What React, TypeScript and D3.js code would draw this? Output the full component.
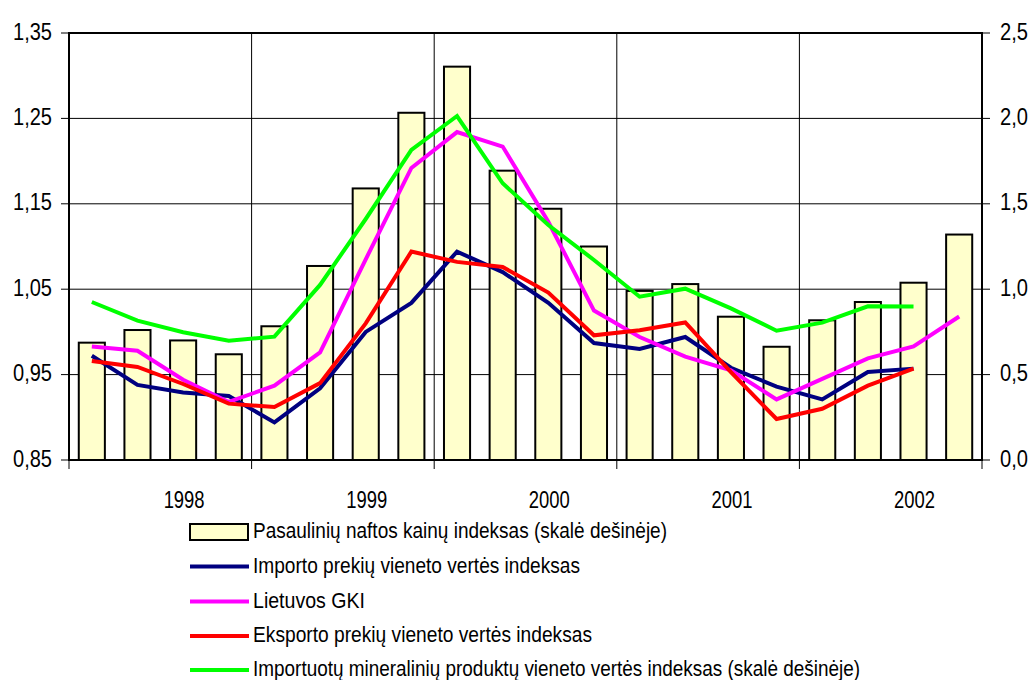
import React from "react";
import * as d3 from "d3";

const quarters = [
  "1998 I", "1998 II", "1998 III", "1998 IV",
  "1999 I", "1999 II", "1999 III", "1999 IV",
  "2000 I", "2000 II", "2000 III", "2000 IV",
  "2001 I", "2001 II", "2001 III", "2001 IV",
  "2002 I", "2002 II", "2002 III", "2002 IV",
];
const yearLabels = ["1998", "1999", "2000", "2001", "2002"];

// right scale
const oilPriceIndex = [
  0.687, 0.761, 0.70, 0.619, 0.783, 1.136, 1.59, 2.033, 2.303, 1.694,
  1.471, 1.25, 0.99, 1.03, 0.839, 0.663, 0.818, 0.925, 1.038, 1.32,
];
// left scale
const importUnitValue = [
  0.972, 0.938, 0.929, 0.925, 0.894, 0.934, 1.0, 1.034, 1.094, 1.07,
  1.034, 0.987, 0.98, 0.994, 0.958, 0.936, 0.921, 0.953, 0.957,
];
const lithuaniaCPI = [
  0.983, 0.978, 0.944, 0.918, 0.937, 0.976, 1.085, 1.192, 1.234, 1.217,
  1.129, 1.025, 0.994, 0.971, 0.955, 0.921, 0.945, 0.969, 0.983, 1.018,
];
const exportUnitValue = [
  0.966, 0.959, 0.939, 0.916, 0.912, 0.94, 1.01, 1.094, 1.082, 1.076,
  1.046, 0.996, 1.002, 1.011, 0.953, 0.898, 0.91, 0.937, 0.957,
];
// right scale
const mineralImportUnitValue = [
  0.925, 0.816, 0.748, 0.698, 0.722, 1.025, 1.411, 1.815, 2.014, 1.62,
  1.376, 1.171, 0.956, 1.003, 0.888, 0.757, 0.804, 0.9, 0.898,
];

const leftTicks = [0.85, 0.95, 1.05, 1.15, 1.25, 1.35];
const rightTicks = [0, 0.5, 1.0, 1.5, 2.0, 2.5];

const legendLabels = [
  "Pasaulinių naftos kainų indeksas (skalė dešinėje)",
  "Importo prekių vieneto vertės indeksas",
  "Lietuvos GKI",
  "Eksporto prekių vieneto vertės indeksas",
  "Importuotų mineralinių produktų vieneto vertės indeksas (skalė dešinėje)",
];
const legendWidths = [414, 327, 112, 339, 607];

const PL = 69, PR = 982, PT = 33, PB = 460;
const FONT = "'Liberation Sans', Arial, sans-serif";

export default function App() {
  const x = d3.scaleBand<string>().domain(quarters).range([PL, PR]).padding(0);
  const bw = x.bandwidth();
  const barW = bw / 1.75;
  const yL = d3.scaleLinear().domain([0.85, 1.35]).range([PB, PT]);
  const yR = d3.scaleLinear().domain([0, 2.5]).range([PB, PT]);
  const cx = (i: number) => (x(quarters[i]) as number) + bw / 2;

  const fmtL = (v: number) => d3.format(".2f")(v).replace(".", ",");
  const fmtR = (v: number) => d3.format(".1f")(v).replace(".", ",");

  const mkLine = (vals: number[], scale: d3.ScaleLinear<number, number>) =>
    d3.line<number>().x((_, i) => cx(i)).y((v) => scale(v))(vals) || "";

  const series = [
    { vals: importUnitValue, scale: yL, color: "#000080" },
    { vals: lithuaniaCPI, scale: yL, color: "#FF00FF" },
    { vals: exportUnitValue, scale: yL, color: "#FF0000" },
    { vals: mineralImportUnitValue, scale: yR, color: "#00FF00" },
  ];

  const boundaries = d3.range(0, quarters.length + 1, 4).map((k) =>
    k < quarters.length ? (x(quarters[k]) as number) : PR
  );

  const legendY = [532, 566.5, 601.5, 636, 670];

  return (
    <svg
      width={1031}
      height={680}
      style={{ position: "absolute", left: 0, top: 0, background: "#fff" }}
      fontFamily={FONT}
    >
      <rect x={0} y={0} width={1031} height={680} fill="#fff" />
      {/* horizontal gridlines */}
      {leftTicks.slice(1, -1).map((t) => (
        <line key={"h" + t} x1={PL} x2={PR} y1={yL(t)} y2={yL(t)} stroke="#000" strokeWidth={1} />
      ))}
      {/* vertical gridlines */}
      {boundaries.slice(1, -1).map((b, i) => (
        <line key={"v" + i} x1={b} x2={b} y1={PT} y2={PB} stroke="#000" strokeWidth={1} />
      ))}
      {/* bars */}
      {oilPriceIndex.map((v, i) => (
        <rect
          key={"b" + i}
          x={cx(i) - barW / 2}
          y={yR(v)}
          width={barW}
          height={PB - yR(v)}
          fill="#FFFFCC"
          stroke="#000"
          strokeWidth={2}
        />
      ))}
      {/* lines */}
      {series.map((s, i) => (
        <path key={"l" + i} d={mkLine(s.vals, s.scale)} fill="none" stroke={s.color} strokeWidth={4} />
      ))}
      {/* plot border */}
      <rect x={PL} y={PT} width={PR - PL} height={PB - PT} fill="none" stroke="#000" strokeWidth={2} />
      {/* left axis ticks & labels */}
      {leftTicks.map((t) => (
        <g key={"lt" + t}>
          <line x1={PL - 8} x2={PL} y1={yL(t)} y2={yL(t)} stroke="#000" strokeWidth={1} />
          <text
            x={52}
            y={yL(t) + 6.5}
            fontSize={23}
            textAnchor="end"
            textLength={39}
            lengthAdjust="spacingAndGlyphs"
            fill="#000"
          >
            {fmtL(t)}
          </text>
        </g>
      ))}
      {/* right axis ticks & labels */}
      {rightTicks.map((t) => (
        <g key={"rt" + t}>
          <line x1={PR} x2={PR + 8} y1={yR(t)} y2={yR(t)} stroke="#000" strokeWidth={1} />
          <text
            x={1000}
            y={yR(t) + 6.5}
            fontSize={23}
            textAnchor="start"
            textLength={28}
            lengthAdjust="spacingAndGlyphs"
            fill="#000"
          >
            {fmtR(t)}
          </text>
        </g>
      ))}
      {/* bottom ticks */}
      {boundaries.map((b, i) => (
        <line key={"bt" + i} x1={b} x2={b} y1={PB} y2={PB + 9} stroke="#000" strokeWidth={1} />
      ))}
      {yearLabels.map((yl, k) => (
        <text
          key={"yl" + yl}
          x={cx(k * 4 + 2) + 1}
          y={508}
          fontSize={23}
          textAnchor="middle"
          textLength={41}
          lengthAdjust="spacingAndGlyphs"
          fill="#000"
        >
          {yl}
        </text>
      ))}
      {/* legend */}
      {legendLabels.map((lab, i) => (
        <g key={"lg" + i}>
          {i === 0 ? (
            <rect x={190} y={legendY[0] - 8} width={58} height={16} fill="#FFFFCC" stroke="#000" strokeWidth={2} />
          ) : (
            <line
              x1={190}
              x2={249}
              y1={legendY[i]}
              y2={legendY[i]}
              stroke={series[i - 1].color}
              strokeWidth={4}
            />
          )}
          <text
            x={253}
            y={legendY[i] + 6}
            fontSize={21.5}
            textLength={legendWidths[i]}
            lengthAdjust="spacingAndGlyphs"
            fill="#000"
          >
            {lab}
          </text>
        </g>
      ))}
    </svg>
  );
}
